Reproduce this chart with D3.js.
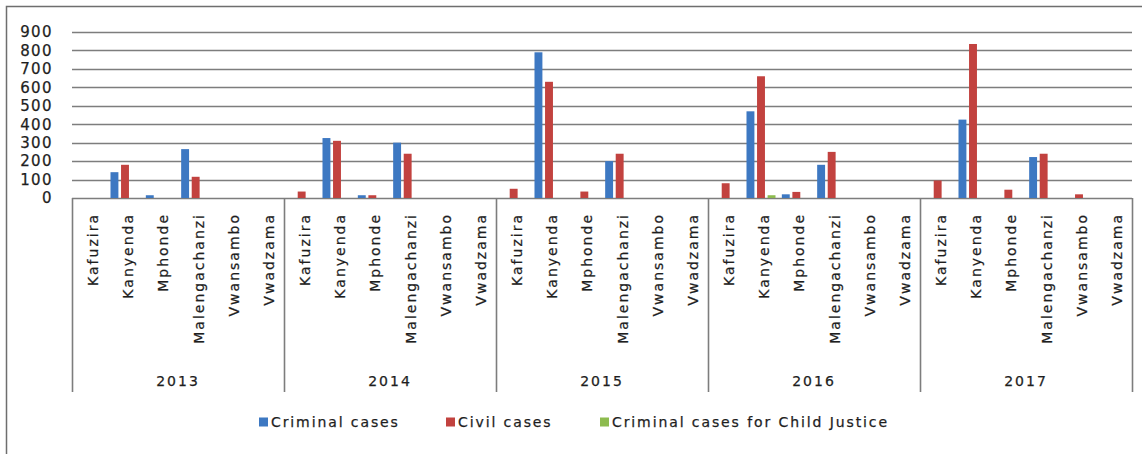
<!DOCTYPE html>
<html>
<head>
<meta charset="utf-8">
<script src="https://cdn.jsdelivr.net/npm/d3@7"></script>
<style>
  html, body { margin: 0; padding: 0; background: #ffffff; }
  svg { display: block; }
  text { font-family: "DejaVu Sans", sans-serif; fill: #1e1e1e; stroke: #1e1e1e; stroke-width: 0.25px; }
</style>
</head>
<body>
<svg id="chart" width="1142" height="454"></svg>
<script>
// ---- data ----
const years = ["2013", "2014", "2015", "2016", "2017"];
const sites = ["Kafuzira", "Kanyenda", "Mphonde", "Malengachanzi", "Vwansambo", "Vwadzama"];
const seriesNames = ["Criminal cases", "Civil cases", "Criminal cases for Child Justice"];
const seriesColors = ["#3d78c2", "#c2423f", "#8dbb4f"];
const yTicks = [0, 100, 200, 300, 400, 500, 600, 700, 800, 900];

// values per year, in order of sites
const criminalCases = {
  "2013": [0, 140, 15, 265, 0, 0],
  "2014": [0, 325, 15, 300, 0, 0],
  "2015": [0, 790, 0, 200, 0, 0],
  "2016": [0, 470, 20, 180, 0, 0],
  "2017": [0, 425, 0, 222, 0, 0]
};
const civilCases = {
  "2013": [0, 180, 0, 115, 0, 0],
  "2014": [35, 310, 15, 240, 0, 0],
  "2015": [50, 630, 35, 240, 0, 0],
  "2016": [80, 660, 33, 250, 0, 0],
  "2017": [95, 835, 45, 240, 20, 0]
};
const childJusticeCases = {
  "2013": [0, 0, 0, 0, 0, 0],
  "2014": [0, 0, 0, 0, 0, 0],
  "2015": [0, 0, 0, 0, 0, 0],
  "2016": [0, 15, 0, 0, 0, 0],
  "2017": [0, 0, 0, 0, 0, 0]
};
const seriesData = [criminalCases, civilCases, childJusticeCases];

// ---- layout ----
const svg = d3.select("#chart");
const plotLeft = 72, plotRight = 1132, plotTop = 32, plotBottom = 198;
const catAxisBottom = 392;

// outer border
svg.append("rect")
  .attr("x", 6.5).attr("y", 6.5)
  .attr("width", 1150).attr("height", 460)
  .attr("fill", "#ffffff")
  .attr("stroke", "#6e6e6e").attr("stroke-width", 1.5);

const y = d3.scaleLinear().domain([0, 900]).range([plotBottom, plotTop]);
const xYear = d3.scaleBand().domain(years).range([plotLeft, plotRight]).padding(0);
const xSite = d3.scaleBand().domain(sites).range([0, xYear.bandwidth()]).padding(0);
const xSeries = d3.scaleBand().domain(d3.range(seriesNames.length))
  .range([0, xSite.bandwidth()]).paddingInner(0.25).paddingOuter(0.3);

// gridlines
svg.append("g").selectAll("line").data(yTicks).join("line")
  .attr("x1", plotLeft).attr("x2", plotRight)
  .attr("y1", d => Math.round(y(d)) + 0.5).attr("y2", d => Math.round(y(d)) + 0.5)
  .attr("stroke", "#7d7d7d").attr("stroke-width", 1.6);

// y axis labels
const yAxis = d3.axisLeft(y).tickValues(yTicks).tickSize(0).tickPadding(0);
const gy = svg.append("g").attr("transform", "translate(53,0)").call(yAxis);
gy.select(".domain").remove();
gy.selectAll("text")
  .style("font-family", "DejaVu Sans, sans-serif")
  .style("font-size", "15px")
  .style("letter-spacing", "1.4px")
  .attr("fill", "#1e1e1e");

// bars
const flat = [];
years.forEach(yr => sites.forEach((s, i) => seriesData.forEach((sd, k) => {
  flat.push({ year: yr, site: s, k: k, value: sd[yr][i] });
})));
svg.append("g").selectAll("rect").data(flat.filter(d => d.value > 0)).join("rect")
  .attr("x", d => xYear(d.year) + xSite(d.site) + xSeries(d.k))
  .attr("width", xSeries.bandwidth())
  .attr("y", d => y(d.value))
  .attr("height", d => y(0) - y(d.value))
  .attr("fill", d => seriesColors[d.k]);

// category axis dividers
const dividers = years.map(yr => xYear(yr)).concat([plotRight]);
svg.append("g").selectAll("line").data(dividers).join("line")
  .attr("x1", d => Math.round(d) + 0.5).attr("x2", d => Math.round(d) + 0.5)
  .attr("y1", plotBottom).attr("y2", catAxisBottom)
  .attr("stroke", "#7d7d7d").attr("stroke-width", 1.6);

// site labels (rotated)
const labels = [];
years.forEach(yr => sites.forEach(s => labels.push({ year: yr, site: s })));
svg.append("g").selectAll("text").data(labels).join("text")
  .attr("transform", d => `translate(${xYear(d.year) + xSite(d.site) + xSite.bandwidth() / 2 + 3},213) rotate(-90)`)
  .attr("text-anchor", "end")
  .attr("dy", "0.35em")
  .style("font-size", "14px")
  .style("letter-spacing", "2px")
  .text(d => d.site);

// year labels
svg.append("g").selectAll("text").data(years).join("text")
  .attr("x", d => xYear(d) + xYear.bandwidth() / 2)
  .attr("y", 381)
  .attr("dy", "0.35em")
  .attr("text-anchor", "middle")
  .style("font-size", "14px")
  .style("letter-spacing", "2px")
  .text(d => d);

// legend
const legendX = [259, 446, 600];
const lg = svg.append("g").selectAll("g").data(seriesNames).join("g")
  .attr("transform", (d, i) => `translate(${legendX[i]},422)`);
lg.append("rect").attr("x", 0).attr("y", -4.5).attr("width", 9).attr("height", 9)
  .attr("fill", (d, i) => seriesColors[i]);
lg.append("text").attr("x", 12).attr("dy", "0.35em")
  .style("font-size", "14px")
  .style("letter-spacing", "1.9px")
  .text(d => d);
</script>
</body>
</html>
